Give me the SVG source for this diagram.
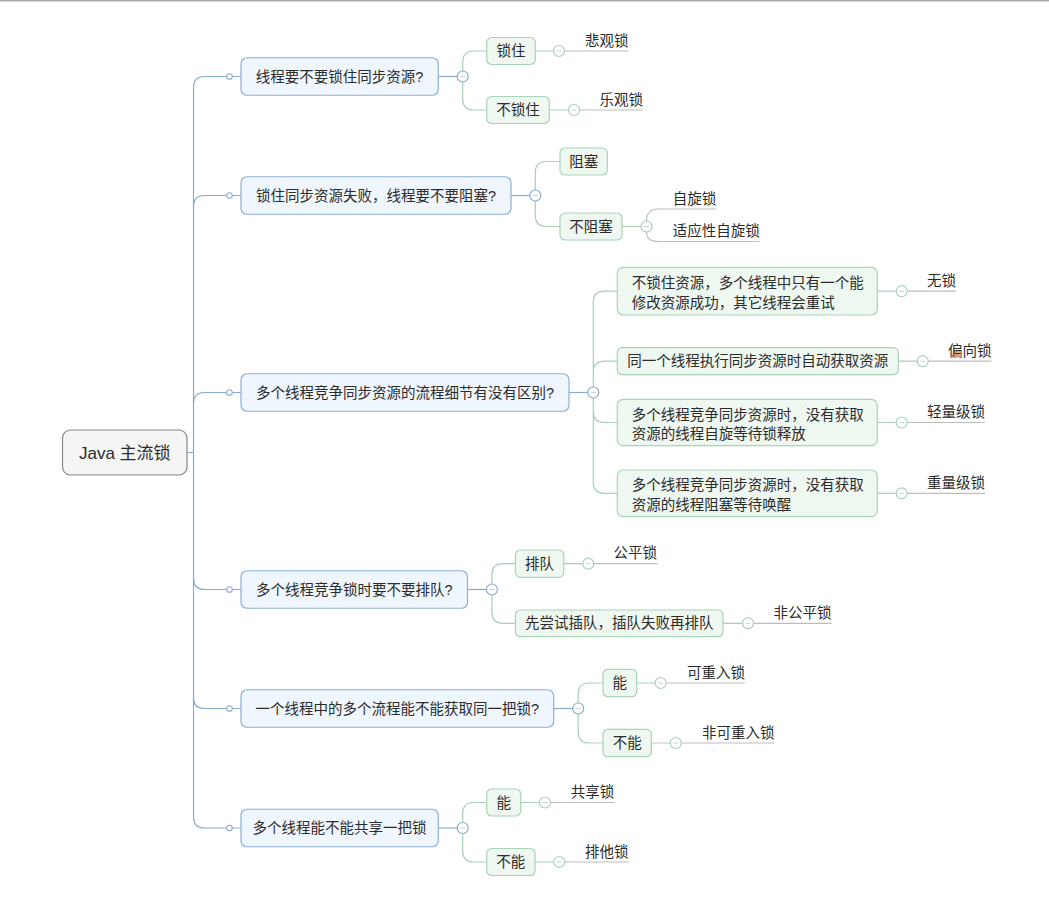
<svg xmlns="http://www.w3.org/2000/svg" width="1049" height="909" viewBox="0 0 1049 909">
<style>
text{font-family:"Liberation Sans","Noto Sans CJK SC",sans-serif;font-size:14.5px;fill:#2b2b2b}
.root rect{fill:#f5f5f5;stroke:#858585;stroke-width:1.2}
.root text{font-size:17px}
.l1 rect{fill:#f0f6fd;stroke:#8db0d6;stroke-width:1.2}
.l2 rect{fill:#eff7f1;stroke:#a9d3b7;stroke-width:1.2}
.leaf line{stroke:#bdbdbd;stroke-width:1.2}
.c path{fill:none;stroke-width:1.2}
.tb{stroke:#88abd0}
.tg{stroke:#a9cfbb}
.tl{stroke:#bdbdbd}
.dot{fill:#fff;stroke:#88abd0;stroke-width:1.1}
.cb{fill:#fff;stroke:#88abd0;stroke-width:1.2}
.cg{fill:#fff;stroke:#a9cfbb;stroke-width:1.2}
.m{stroke:#c9d3dc;stroke-width:1}
</style>
<rect x="0" y="0" width="1049" height="909" fill="#fff"/>
<rect x="0" y="0" width="1049" height="1.5" fill="#a8a8a8"/>

<g id="connectors" class="c">
  <!-- root to trunk -->
  <path class="tb" d="M187,452.5 H193.5 M193.5,87.5 V817"/>
  <path class="tb" d="M193.5,87.5 Q193.5,76.5 204.5,76.5 H226.7 M232.3,76.5 H241"/>
  <path class="tb" d="M193.5,206.5 Q193.5,195.5 204.5,195.5 H226.7 M232.3,195.5 H241"/>
  <path class="tb" d="M193.5,403.5 Q193.5,392.5 204.5,392.5 H226.7 M232.3,392.5 H241"/>
  <path class="tb" d="M193.5,578.5 Q193.5,589.5 204.5,589.5 H226.7 M232.3,589.5 H241"/>
  <path class="tb" d="M193.5,697.5 Q193.5,708.5 204.5,708.5 H226.7 M232.3,708.5 H241"/>
  <path class="tb" d="M193.5,817 Q193.5,828 204.5,828 H226.7 M232.3,828 H241"/>
  <circle class="dot" cx="229.5" cy="76.5" r="2.8"/>
  <circle class="dot" cx="229.5" cy="195.5" r="2.8"/>
  <circle class="dot" cx="229.5" cy="392.5" r="2.8"/>
  <circle class="dot" cx="229.5" cy="589.5" r="2.8"/>
  <circle class="dot" cx="229.5" cy="708.5" r="2.8"/>
  <circle class="dot" cx="229.5" cy="828" r="2.8"/>

  <!-- group 1 -->
  <path class="tb" d="M438.3,76.5 H457.2"/>
  <path class="tg" d="M462.7,71 V62 Q462.7,51 473.7,51 H486.7 M462.7,82 V99 Q462.7,110 473.7,110 H486.7"/>
  <path class="tg" d="M535.3,51 H553.5 M549.3,110 H568.5"/>
  <!-- group 2 -->
  <path class="tb" d="M511,195.5 H529.8"/>
  <path class="tg" d="M535.3,190 V172.5 Q535.3,161.5 546.3,161.5 H560 M535.3,201 V215.5 Q535.3,226.5 546.3,226.5 H560"/>
  <path class="tg" d="M622,226.5 H641"/>
  <path class="tl" d="M646.5,221 Q646.5,209 658.5,209 H716.2 M646.5,232 Q646.5,241.5 658.5,241.5 H759.7"/>
  <!-- group 3 -->
  <path class="tb" d="M569,392.5 H587.8"/>
  <path class="tg" d="M593.3,387 V302.2 Q593.3,291.2 604.3,291.2 H617.3 M593.3,387 V372.2 Q593.3,361.2 604.3,361.2 H617.3 M593.3,398 V411.5 Q593.3,422.5 604.3,422.5 H617.3 M593.3,398 V482.3 Q593.3,493.3 604.3,493.3 H617.3"/>
  <path class="tg" d="M877.3,291.2 H896.2 M898.3,361.2 H917.2 M877.3,422.5 H896.2 M877.3,493.3 H896.2"/>
  <!-- group 4 -->
  <path class="tb" d="M467.5,589.5 H486.4"/>
  <path class="tg" d="M491.9,584 V574.7 Q491.9,563.7 502.9,563.7 H515.4 M491.9,595 V612.3 Q491.9,623.3 502.9,623.3 H515.4"/>
  <path class="tg" d="M563.8,563.7 H582.7 M723,623.3 H742.5"/>
  <!-- group 5 -->
  <path class="tb" d="M553.7,708.5 H572.7"/>
  <path class="tg" d="M578.2,703 V694 Q578.2,683 589.2,683 H603 M578.2,714 V732 Q578.2,743 589.2,743 H603"/>
  <path class="tg" d="M636.7,683 H655.1 M651.4,743 H670.3"/>
  <!-- group 6 -->
  <path class="tb" d="M438.3,828 H457.2"/>
  <path class="tg" d="M462.7,822.5 V813.5 Q462.7,802.5 473.7,802.5 H486.7 M462.7,833.5 V851 Q462.7,862 473.7,862 H486.7"/>
  <path class="tg" d="M520.7,802.5 H539.5 M535,862 H553.8"/>

  <!-- collapse circles -->
  <g>
    <circle class="cb" cx="462.7" cy="76.5" r="5.5"/><line class="m" x1="460.2" y1="76.5" x2="465.2" y2="76.5"/>
    <circle class="cb" cx="535.3" cy="195.5" r="5.5"/><line class="m" x1="532.8" y1="195.5" x2="537.8" y2="195.5"/>
    <circle class="cb" cx="593.3" cy="392.5" r="5.5"/><line class="m" x1="590.8" y1="392.5" x2="595.8" y2="392.5"/>
    <circle class="cb" cx="491.9" cy="589.5" r="5.5"/><line class="m" x1="489.4" y1="589.5" x2="494.4" y2="589.5"/>
    <circle class="cb" cx="578.2" cy="708.5" r="5.5"/><line class="m" x1="575.7" y1="708.5" x2="580.7" y2="708.5"/>
    <circle class="cb" cx="462.7" cy="828" r="5.5"/><line class="m" x1="460.2" y1="828" x2="465.2" y2="828"/>

    <circle class="cg" cx="559" cy="51" r="5.5"/><line class="m" x1="556.5" y1="51" x2="561.5" y2="51"/>
    <circle class="cg" cx="574" cy="110" r="5.5"/><line class="m" x1="571.5" y1="110" x2="576.5" y2="110"/>
    <circle class="cg" cx="646.5" cy="226.5" r="5.5"/><line class="m" x1="644" y1="226.5" x2="649" y2="226.5"/>
    <circle class="cg" cx="901.7" cy="291.2" r="5.5"/><line class="m" x1="899.2" y1="291.2" x2="904.2" y2="291.2"/>
    <circle class="cg" cx="922.7" cy="361.2" r="5.5"/><line class="m" x1="920.2" y1="361.2" x2="925.2" y2="361.2"/>
    <circle class="cg" cx="901.7" cy="422.5" r="5.5"/><line class="m" x1="899.2" y1="422.5" x2="904.2" y2="422.5"/>
    <circle class="cg" cx="901.7" cy="493.3" r="5.5"/><line class="m" x1="899.2" y1="493.3" x2="904.2" y2="493.3"/>
    <circle class="cg" cx="588.2" cy="563.7" r="5.5"/><line class="m" x1="585.7" y1="563.7" x2="590.7" y2="563.7"/>
    <circle class="cg" cx="748" cy="623.3" r="5.5"/><line class="m" x1="745.5" y1="623.3" x2="750.5" y2="623.3"/>
    <circle class="cg" cx="660.6" cy="683" r="5.5"/><line class="m" x1="658.1" y1="683" x2="663.1" y2="683"/>
    <circle class="cg" cx="675.8" cy="743" r="5.5"/><line class="m" x1="673.3" y1="743" x2="678.3" y2="743"/>
    <circle class="cg" cx="545" cy="802.5" r="5.5"/><line class="m" x1="542.5" y1="802.5" x2="547.5" y2="802.5"/>
    <circle class="cg" cx="559.3" cy="862" r="5.5"/><line class="m" x1="556.8" y1="862" x2="561.8" y2="862"/>
  </g>
</g>

<g id="root" class="root">
  <rect x="62.5" y="430" width="124.5" height="45" rx="8"/>
  <text x="124.75" y="458.5" text-anchor="middle">Java 主流锁</text>
</g>

<g id="q1" class="l1"><rect x="241" y="57.75" width="197.3" height="37.5" rx="6"/><text x="339.6" y="81.5" text-anchor="middle">线程要不要锁住同步资源?</text></g>
<g id="q2" class="l1"><rect x="241" y="176.75" width="270" height="37.5" rx="6"/><text x="376" y="200.5" text-anchor="middle">锁住同步资源失败，线程要不要阻塞?</text></g>
<g id="q3" class="l1"><rect x="241" y="373.75" width="328" height="37.5" rx="6"/><text x="405" y="397.5" text-anchor="middle">多个线程竞争同步资源的流程细节有没有区别?</text></g>
<g id="q4" class="l1"><rect x="241" y="570.75" width="226.5" height="37.5" rx="6"/><text x="354.2" y="594.5" text-anchor="middle">多个线程竞争锁时要不要排队?</text></g>
<g id="q5" class="l1"><rect x="241" y="689.75" width="312.7" height="37.5" rx="6"/><text x="397.3" y="713.5" text-anchor="middle">一个线程中的多个流程能不能获取同一把锁?</text></g>
<g id="q6" class="l1"><rect x="241" y="809.25" width="197.3" height="37.5" rx="6"/><text x="339.6" y="833" text-anchor="middle">多个线程能不能共享一把锁</text></g>

<g id="a1" class="l2"><rect x="486.7" y="37.5" width="48.6" height="27" rx="5"/><text x="511" y="56" text-anchor="middle">锁住</text></g>
<g id="a2" class="l2"><rect x="486.7" y="96.5" width="62.6" height="27" rx="5"/><text x="518" y="115" text-anchor="middle">不锁住</text></g>
<g id="b1" class="l2"><rect x="560" y="148" width="47.3" height="27" rx="5"/><text x="583.65" y="166.5" text-anchor="middle">阻塞</text></g>
<g id="b2" class="l2"><rect x="560" y="213" width="62" height="27" rx="5"/><text x="591" y="231.5" text-anchor="middle">不阻塞</text></g>
<g id="c1" class="l2"><rect x="617.3" y="267.3" width="260" height="47.7" rx="6"/><text x="631.7" y="288">不锁住资源，多个线程中只有一个能</text><text x="631.7" y="308">修改资源成功，其它线程会重试</text></g>
<g id="c2" class="l2"><rect x="617.3" y="347.7" width="281" height="27" rx="5"/><text x="757.8" y="366.2" text-anchor="middle">同一个线程执行同步资源时自动获取资源</text></g>
<g id="c3" class="l2"><rect x="617.3" y="399.3" width="260" height="46.4" rx="6"/><text x="631.7" y="419.5">多个线程竞争同步资源时，没有获取</text><text x="631.7" y="438.5">资源的线程自旋等待锁释放</text></g>
<g id="c4" class="l2"><rect x="617.3" y="470" width="260" height="46.7" rx="6"/><text x="631.7" y="490">多个线程竞争同步资源时，没有获取</text><text x="631.7" y="509.5">资源的线程阻塞等待唤醒</text></g>
<g id="d1" class="l2"><rect x="515.4" y="550" width="48.4" height="27.3" rx="5"/><text x="539.6" y="568.7" text-anchor="middle">排队</text></g>
<g id="d2" class="l2"><rect x="515.4" y="610" width="207.6" height="26.7" rx="5"/><text x="619.2" y="628.3" text-anchor="middle">先尝试插队，插队失败再排队</text></g>
<g id="e1" class="l2"><rect x="603" y="669.3" width="33.7" height="27.4" rx="5"/><text x="619.85" y="688" text-anchor="middle">能</text></g>
<g id="e2" class="l2"><rect x="603" y="729.3" width="48.4" height="27.4" rx="5"/><text x="627.2" y="748" text-anchor="middle">不能</text></g>
<g id="f1" class="l2"><rect x="486.7" y="789" width="34" height="27" rx="5"/><text x="503.7" y="807.5" text-anchor="middle">能</text></g>
<g id="f2" class="l2"><rect x="486.7" y="848.5" width="48.3" height="27" rx="5"/><text x="510.85" y="867" text-anchor="middle">不能</text></g>

<g id="leaf-beiguan" class="leaf"><line x1="564.5" y1="51" x2="628.5" y2="51"/><text x="585" y="45.5">悲观锁</text></g>
<g id="leaf-leguan" class="leaf"><line x1="579.5" y1="110" x2="643" y2="110"/><text x="599.5" y="104.5">乐观锁</text></g>
<g id="leaf-zixuan" class="leaf"><text x="672.7" y="203.5">自旋锁</text></g>
<g id="leaf-shiying" class="leaf"><text x="672.7" y="236">适应性自旋锁</text></g>
<g id="leaf-wusuo" class="leaf"><line x1="907.2" y1="291.2" x2="956" y2="291.2"/><text x="927" y="285.7">无锁</text></g>
<g id="leaf-pianxiang" class="leaf"><line x1="928.2" y1="361.2" x2="991.5" y2="361.2"/><text x="948" y="355.7">偏向锁</text></g>
<g id="leaf-qingliang" class="leaf"><line x1="907.2" y1="422.5" x2="985" y2="422.5"/><text x="927" y="417">轻量级锁</text></g>
<g id="leaf-zhongliang" class="leaf"><line x1="907.2" y1="493.3" x2="985" y2="493.3"/><text x="927" y="487.8">重量级锁</text></g>
<g id="leaf-gongping" class="leaf"><line x1="593.7" y1="563.7" x2="657.5" y2="563.7"/><text x="613.5" y="558.2">公平锁</text></g>
<g id="leaf-feigongping" class="leaf"><line x1="753.5" y1="623.3" x2="831.5" y2="623.3"/><text x="773.4" y="617.8">非公平锁</text></g>
<g id="leaf-kechongru" class="leaf"><line x1="666.1" y1="683" x2="745" y2="683"/><text x="687" y="677.5">可重入锁</text></g>
<g id="leaf-feikechongru" class="leaf"><line x1="681.3" y1="743" x2="774.4" y2="743"/><text x="701.9" y="737.5">非可重入锁</text></g>
<g id="leaf-gongxiang" class="leaf"><line x1="550.5" y1="802.5" x2="614.5" y2="802.5"/><text x="570.7" y="797">共享锁</text></g>
<g id="leaf-paita" class="leaf"><line x1="564.8" y1="862" x2="629" y2="862"/><text x="585" y="856.5">排他锁</text></g>
</svg>
